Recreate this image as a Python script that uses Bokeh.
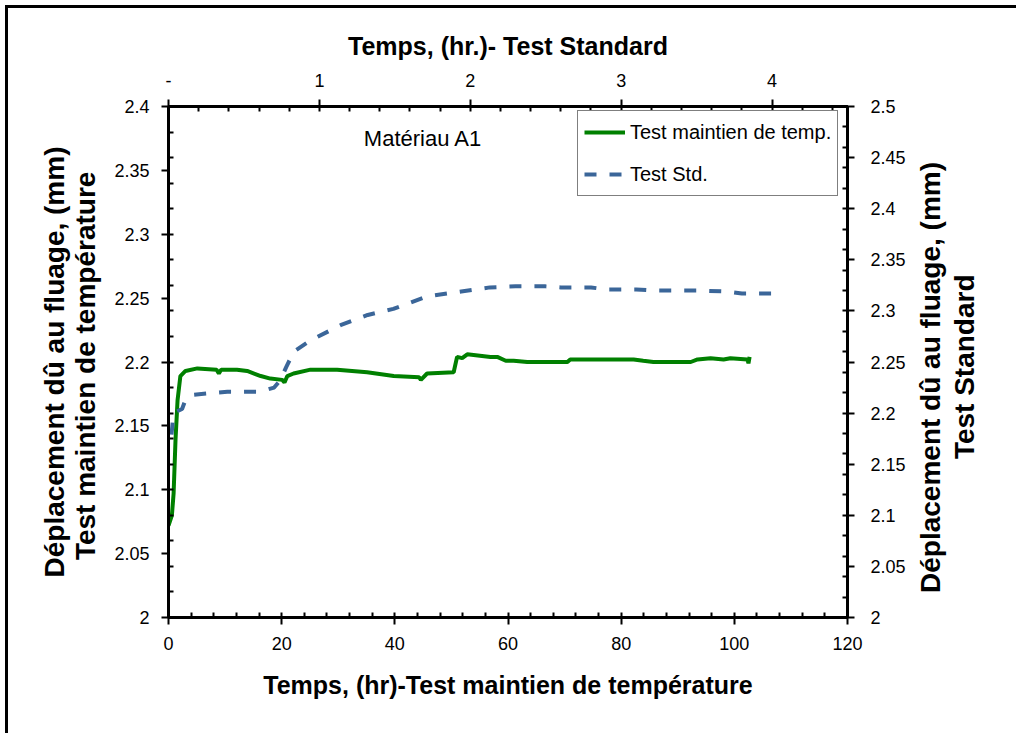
import math
from bokeh.plotting import figure
from bokeh.models import Range1d, LinearAxis, FixedTicker, Label, Legend, LegendItem
from bokeh.embed import file_html
from bokeh.resources import INLINE

# ---- data ----
temp_hours = [0.0, 0.6, 0.9, 1.24, 1.6, 2.1, 3.0, 5.1, 8.5, 8.9, 9.3, 12.1, 13.9, 16.3,
              18.0, 20.1, 20.5, 21.0, 22.1, 25.1, 29.8, 35.1, 39.8, 44.3, 44.6, 45.7,
              50.4, 51.0, 51.9, 52.8, 56.9, 58.1, 59.6, 61.0, 63.4, 70.5, 71.0, 82.2,
              83.9, 85.7, 92.3, 93.5, 95.8, 98.1, 99.3, 102.3, 102.5, 102.7]
temp_disp = [2.072, 2.080, 2.097, 2.139, 2.170, 2.189, 2.193, 2.195, 2.194, 2.191, 2.194,
             2.194, 2.193, 2.189, 2.187, 2.186, 2.184, 2.189, 2.191, 2.194, 2.194, 2.192,
             2.189, 2.188, 2.186, 2.191, 2.192, 2.204, 2.203, 2.206, 2.204, 2.204, 2.201,
             2.201, 2.200, 2.200, 2.202, 2.202, 2.201, 2.200, 2.200, 2.202, 2.203, 2.202,
             2.203, 2.202, 2.199, 2.204]

std_hours = [0.02, 0.03, 0.046, 0.09, 0.11, 0.17, 0.39, 0.61, 0.70, 0.74, 0.78, 0.83,
             0.94, 1.14, 1.32, 1.49, 1.71, 1.94, 2.13, 2.30, 2.50, 2.60, 2.80, 2.90,
             3.10, 3.20, 3.50, 3.70, 3.80, 4.07]
std_disp = [2.179, 2.195, 2.201, 2.204, 2.212, 2.218, 2.221, 2.221, 2.225, 2.232, 2.245,
            2.260, 2.271, 2.286, 2.296, 2.302, 2.314, 2.319, 2.323, 2.324, 2.324, 2.323,
            2.323, 2.321, 2.321, 2.320, 2.320, 2.319, 2.317, 2.317]

bottom_ticks = [0, 20, 40, 60, 80, 100, 120]
bottom_minor = [4 * i for i in range(31)]
left_ticks = [2.0, 2.05, 2.1, 2.15, 2.2, 2.25, 2.3, 2.35, 2.4]
left_minor = [round(2.0 + 0.02 * i, 2) for i in range(21)]
top_ticks = [0, 1, 2, 3, 4]
top_labels = ["-", "1", "2", "3", "4"]
top_minor = [round(0.2 * i, 1) for i in range(23)]
right_ticks = [2.0, 2.05, 2.1, 2.15, 2.2, 2.25, 2.3, 2.35, 2.4, 2.45, 2.5]
right_minor = [round(2.0 + 0.02 * i, 2) for i in range(26)]

series_names = ["Test maintien de temp.", "Test Std."]
left_title = ["Déplacement dû au fluage, (mm)", "Test  maintien de température"]
right_title = ["Déplacement dû au fluage, (mm)", "Test Standard"]
FONT = "Liberation Sans"

p = figure(width=1011, height=728, output_backend="svg", toolbar_location=None,
           x_range=Range1d(0, 120), y_range=Range1d(2.0, 2.4),
           x_axis_location=None, y_axis_location=None,
           min_border_left=160, min_border_right=172,
           min_border_top=98, min_border_bottom=119)
p.extra_x_ranges = {"top": Range1d(0, 4.5)}
p.extra_y_ranges = {"right": Range1d(2.0, 2.5)}
p.grid.visible = False
p.outline_line_color = "black"
p.outline_line_width = 3
p.background_fill_color = "white"
p.border_fill_color = "white"
p.styles = {"margin-left": "5px", "margin-top": "5px",
            "border-top": "3px solid black", "border-left": "3px solid black"}


def style(ax, ticks, minor, overrides=None):
    ax.ticker = FixedTicker(ticks=ticks, minor_ticks=minor)
    ax.major_tick_out = 7
    ax.major_tick_in = 0
    ax.minor_tick_in = 5
    ax.minor_tick_out = 0
    ax.axis_line_width = 3
    ax.axis_line_color = "black"
    ax.major_tick_line_width = 2
    ax.minor_tick_line_width = 2
    ax.major_tick_line_color = "black"
    ax.minor_tick_line_color = "black"
    ax.major_label_text_font = FONT
    ax.major_label_text_font_size = "18px"
    ax.major_label_text_color = "black"
    ax.axis_label_text_font = FONT
    ax.axis_label_text_font_style = "bold"
    ax.axis_label_text_font_size = "25px"
    ax.axis_label_text_color = "black"
    if overrides is not None:
        ax.major_label_overrides = overrides


bottom = LinearAxis(axis_label="Temps, (hr)-Test maintien de température")
style(bottom, bottom_ticks, bottom_minor)
bottom.major_label_standoff = 12
bottom.axis_label_standoff = 18
p.add_layout(bottom, "below")

left = LinearAxis(axis_label="\n".join(left_title))
style(left, left_ticks, left_minor, {t: f"{t:g}" for t in left_ticks})
left.major_label_standoff = 12
left.axis_label_standoff = 10
left.axis_label_text_font_size = "28px"
left.axis_label_text_line_height = 1.0
p.add_layout(left, "left")

top = LinearAxis(x_range_name="top", axis_label="Temps, (hr.)- Test Standard")
style(top, top_ticks, top_minor, dict(zip(top_ticks, top_labels)))
top.major_label_standoff = 13
top.axis_label_standoff = 11
p.add_layout(top, "above")

right = LinearAxis(y_range_name="right")
style(right, right_ticks, right_minor, {t: f"{t:g}" for t in right_ticks})
right.major_label_standoff = 16
p.add_layout(right, "right")

# right-hand two-line title, reading bottom to top: one text-only axis per line
for anchor, standoff, txt in zip([2.024, 2.155], [22, 0], right_title):
    t_ax = LinearAxis(y_range_name="right")
    t_ax.ticker = FixedTicker(ticks=[anchor], minor_ticks=[])
    t_ax.major_label_overrides = {anchor: txt}
    t_ax.major_label_orientation = math.pi / 2
    t_ax.major_label_standoff = standoff
    t_ax.major_label_text_font = FONT
    t_ax.major_label_text_font_style = "bold"
    t_ax.major_label_text_font_size = "28px"
    t_ax.major_label_text_color = "black"
    t_ax.axis_line_color = None
    t_ax.major_tick_line_color = None
    t_ax.minor_tick_line_color = None
    t_ax.major_tick_out = 0
    t_ax.major_tick_in = 0
    t_ax.minor_tick_out = 0
    t_ax.minor_tick_in = 0
    p.add_layout(t_ax, "right")

g = p.line(temp_hours, temp_disp, line_color="#008000", line_width=4)
b = p.line(std_hours, std_disp, x_range_name="top", y_range_name="right",
           line_color="#3B6699", line_width=4, line_dash="12 13")

p.add_layout(Label(x=45.0, y=2.375, text="Matériau A1", text_font=FONT,
                   text_font_size="22px", text_align="center", text_baseline="middle",
                   text_color="black"))

legend = Legend(items=[LegendItem(label=series_names[0], renderers=[g]),
                       LegendItem(label=series_names[1], renderers=[b])],
                location=(409, 421))
legend.label_text_font = FONT
legend.label_text_font_size = "20px"
legend.label_text_color = "black"
legend.glyph_width = 41
legend.glyph_height = 30
legend.label_height = 30
legend.label_standoff = 5
legend.spacing = 12
legend.padding = 6
legend.margin = 0
legend.border_line_color = "black"
legend.border_line_width = 1
legend.background_fill_color = "white"
legend.background_fill_alpha = 1
p.add_layout(legend)

open("out.html", "w").write(file_html(p, INLINE))
